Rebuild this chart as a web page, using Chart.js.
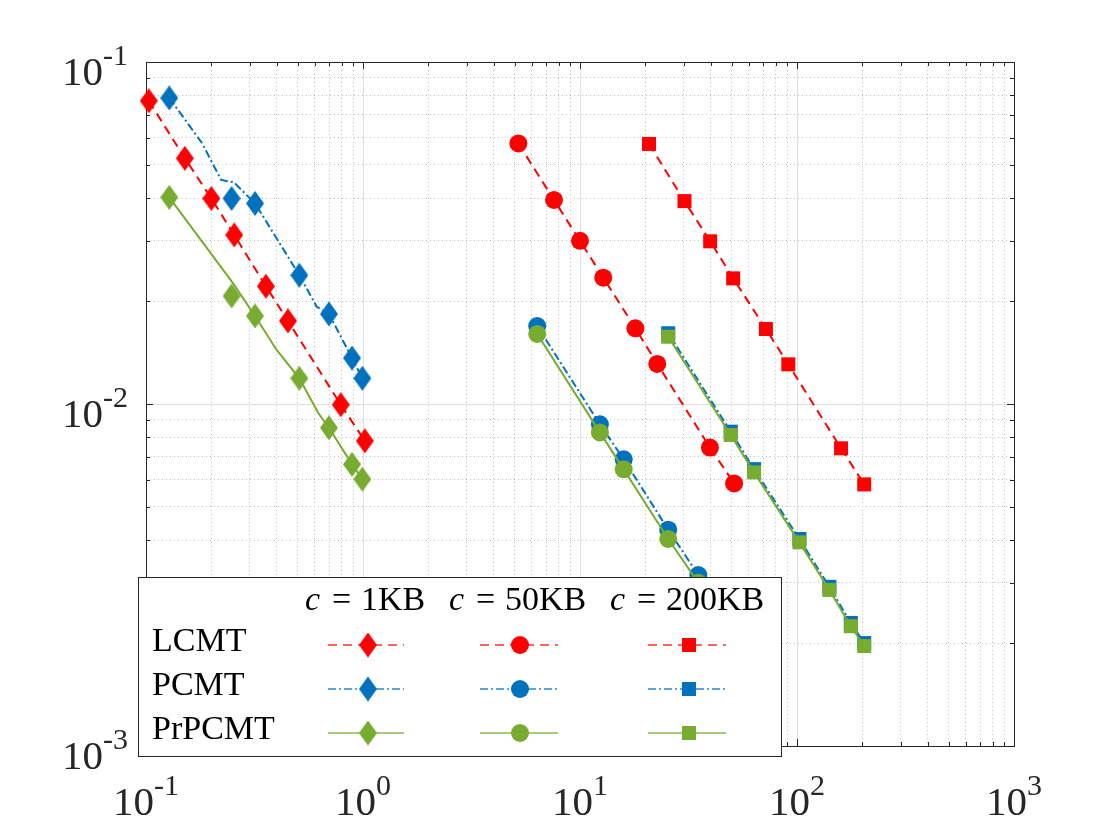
<!DOCTYPE html>
<html>
<head>
<meta charset="utf-8">
<script src="https://cdn.jsdelivr.net/npm/chart.js@4.4.1/dist/chart.umd.min.js"></script>
<style>
  body { margin: 0; background: #fff; }
  #wrap { width: 1120px; height: 840px; }
</style>
</head>
<body>
<div id="wrap"><canvas id="chart" width="1120" height="840"></canvas></div>
<script>
// ---- data ----
// c = 1KB
var lc1X = [0.103, 0.151, 0.2, 0.255, 0.357, 0.451, 0.79, 1.02];
var lc1Y = [0.077, 0.0523, 0.0399, 0.0312, 0.0221, 0.0175, 0.00995, 0.0078];
var p1MarkX = [0.128, 0.248, 0.318, 0.509, 0.697, 0.89, 0.993];
var pc1Y = [0.0785, 0.0399, 0.0386, 0.0238, 0.01833, 0.01363, 0.01189];
var pr1Y = [0.0402, 0.0207, 0.01809, 0.01189, 0.00852, 0.00666, 0.00603];
// the 1KB curves have a few extra vertices without markers
var pc1LineX = [0.128, 0.181, 0.222, 0.254, 0.318, 0.509, 0.612, 0.697, 0.89, 0.993];
var pc1LineY = [0.0785, 0.058, 0.0452, 0.0445, 0.0386, 0.0238, 0.01925, 0.01833, 0.01363, 0.01189];
var pr1LineX = [0.128, 0.253, 0.318, 0.4, 0.509, 0.622, 0.697, 0.89, 0.993];
var pr1LineY = [0.0402, 0.02244, 0.01809, 0.01439, 0.01189, 0.00941, 0.00852, 0.00666, 0.00603];

// c = 50KB
var lc50X = [5.2, 7.59, 10, 12.8, 18, 22.7, 39.7, 51.3];
var lc50Y = [0.0578, 0.0395, 0.030, 0.0234, 0.01665, 0.0131, 0.00746, 0.00586];
var p50X = [6.35, 12.35, 15.9, 25.5, 35.1];
var pc50Y = [0.0169, 0.00872, 0.00689, 0.00429, 0.00316];
var pr50Y = [0.01603, 0.00826, 0.00644, 0.00403, 0.0030];

// c = 200KB
var lc200X = [20.8, 30.3, 39.8, 50.8, 71.9, 91.2, 159.6, 204];
var lc200Y = [0.0576, 0.0392, 0.0299, 0.0233, 0.01657, 0.01306, 0.00742, 0.00582];
var p200X = [25.5, 49.5, 63.4, 102.6, 141, 177, 204];
var pc200Y = [0.0161, 0.0083, 0.00645, 0.00403, 0.00292, 0.00229, 0.0020];
var pr200Y = [0.01573, 0.00812, 0.00631, 0.00394, 0.00286, 0.00224, 0.00196];

var methods = ['LCMT', 'PCMT', 'PrPCMT'];
var sizes = ['1KB', '50KB', '200KB'];
var xLabelPows = [-1, 0, 1, 2, 3];
var yLabelPows = [-3, -2, -1];

var RED = '#ff0000', BLUE = '#0072bd', GREEN = '#77ac30';
var AXIS = '#262626';
var FONT = '"Liberation Serif", "DejaVu Serif", serif';

function decadeTicks(lo, hi) {
  var out = [];
  for (var k = lo; k < hi; k++) {
    for (var m = 1; m <= 9; m++) out.push(Number((m * Math.pow(10, k)).toPrecision(3)));
  }
  out.push(Math.pow(10, hi));
  return out;
}
var xTicks = decadeTicks(-1, 3);
var yTicks = decadeTicks(-3, -1);

function isMajor(v) {
  var l = Math.log10(v);
  return Math.abs(l - Math.round(l)) < 1e-6;
}

function pts(xs, ys) {
  return xs.map(function (x, i) { return { x: x, y: ys[i] }; });
}

// taller-than-wide diamond like matlab's
function diamond(color) {
  var c = document.createElement('canvas');
  c.width = 18; c.height = 25;
  var g = c.getContext('2d');
  g.fillStyle = color;
  g.beginPath();
  g.moveTo(9, 0); g.lineTo(18, 12.5); g.lineTo(9, 25); g.lineTo(0, 12.5);
  g.closePath(); g.fill();
  return c;
}
var dRed = diamond(RED), dBlue = diamond(BLUE), dGreen = diamond(GREEN);

var dashes = { LCMT: [9, 6], PCMT: [8, 3, 2, 3], PrPCMT: [] };
var colors = { LCMT: RED, PCMT: BLUE, PrPCMT: GREEN };
var orders = { LCMT: 2, PCMT: 1, PrPCMT: 0 };

function lineSet(xs, ys, method) {
  return {
    data: pts(xs, ys), showLine: true, pointRadius: 0,
    borderColor: colors[method], borderWidth: 2, borderDash: dashes[method],
    order: orders[method], clip: false
  };
}
function markSet(xs, ys, method, style, radius, withLine) {
  return {
    data: pts(xs, ys), showLine: withLine,
    borderColor: colors[method], borderWidth: 2, borderDash: dashes[method],
    pointStyle: style, pointRadius: radius, pointBorderWidth: 0,
    pointBackgroundColor: colors[method], pointBorderColor: colors[method],
    order: orders[method], clip: false
  };
}

var datasets = [
  markSet(lc1X, lc1Y, 'LCMT', dRed, 9, true),
  lineSet(pc1LineX, pc1LineY, 'PCMT'),
  markSet(p1MarkX, pc1Y, 'PCMT', dBlue, 9, false),
  lineSet(pr1LineX, pr1LineY, 'PrPCMT'),
  markSet(p1MarkX, pr1Y, 'PrPCMT', dGreen, 9, false),
  markSet(lc50X, lc50Y, 'LCMT', 'circle', 9, true),
  markSet(p50X, pc50Y, 'PCMT', 'circle', 9, true),
  markSet(p50X, pr50Y, 'PrPCMT', 'circle', 9, true),
  markSet(lc200X, lc200Y, 'LCMT', 'rect', 9.9, true),
  markSet(p200X, pc200Y, 'PCMT', 'rect', 9.9, true),
  markSet(p200X, pr200Y, 'PrPCMT', 'rect', 9.9, true)
];

function gridOpts() {
  return {
    drawTicks: false, tickLength: 0, lineWidth: 1,
    color: function (c) { return c.tick && isMajor(c.tick.value) ? '#dedede' : '#bdbdbd'; }
  };
}
function borderOpts() {
  return {
    display: false,
    dash: function (c) { return c.tick && isMajor(c.tick.value) ? [] : [1, 3]; }
  };
}

// box, inner ticks, tick labels, legend
var decor = {
  id: 'decor',
  beforeDatasetsDraw: function (chart) {
    var ctx = chart.ctx, a = chart.chartArea;
    var sx = chart.scales.x, sy = chart.scales.y;
    ctx.save();
    ctx.strokeStyle = AXIS;
    ctx.lineWidth = 1;
    ctx.beginPath();
    xTicks.forEach(function (v) {
      var px = Math.round(sx.getPixelForValue(v)) + 0.5;
      var len = isMajor(v) ? 7 : 4;
      ctx.moveTo(px, a.bottom); ctx.lineTo(px, a.bottom - len);
      ctx.moveTo(px, a.top); ctx.lineTo(px, a.top + len);
    });
    yTicks.forEach(function (v) {
      var py = Math.round(sy.getPixelForValue(v)) + 0.5;
      var len = isMajor(v) ? 7 : 4;
      ctx.moveTo(a.left, py); ctx.lineTo(a.left + len, py);
      ctx.moveTo(a.right, py); ctx.lineTo(a.right - len, py);
    });
    ctx.stroke();
    ctx.strokeRect(Math.round(a.left) + 0.5, Math.round(a.top) + 0.5,
      Math.round(a.right - a.left), Math.round(a.bottom - a.top));
    ctx.restore();
  },
  afterDraw: function (chart) {
    var ctx = chart.ctx;
    var sx = chart.scales.x, sy = chart.scales.y;
    ctx.save();
    ctx.fillStyle = AXIS;
    ctx.textBaseline = 'alphabetic';
    ctx.textAlign = 'left';

    function powLabel(p) {
      ctx.font = '41px ' + FONT;
      var wb = ctx.measureText('10').width;
      ctx.font = '30px ' + FONT;
      var we = ctx.measureText(String(p)).width;
      return { wb: wb, we: we, w: wb + we };
    }
    function drawPow(p, x0, base) {
      var m = powLabel(p);
      ctx.font = '41px ' + FONT;
      ctx.fillText('10', x0, base);
      ctx.font = '30px ' + FONT;
      ctx.fillText(String(p), x0 + m.wb, base - 20);
    }
    xLabelPows.forEach(function (p) {
      var px = sx.getPixelForValue(Math.pow(10, p));
      var m = powLabel(p);
      drawPow(p, px - m.w / 2, 815);
    });
    yLabelPows.forEach(function (p) {
      var py = sy.getPixelForValue(Math.pow(10, p));
      var m = powLabel(p);
      drawPow(p, 128 - m.w, py + 23);
    });

    // legend table
    var L = 138, T = 577, R = 781, B = 756;
    ctx.fillStyle = '#ffffff';
    ctx.fillRect(L, T, R - L, B - T);
    ctx.strokeStyle = AXIS;
    ctx.lineWidth = 1;
    ctx.strokeRect(L + 0.5, T + 0.5, R - L, B - T);

    ctx.fillStyle = '#000';
    var headX = [305, 449, 610];
    sizes.forEach(function (s, i) {
      ctx.font = 'italic 34px ' + FONT;
      ctx.fillText('c', headX[i], 610);
      ctx.font = '34px ' + FONT;
      ctx.fillText('=', headX[i] + 27, 610);
      ctx.fillText(s, headX[i] + 56, 610);
    });
    var rowY = [645, 689, 733];
    ctx.font = '34px ' + FONT;
    methods.forEach(function (m, r) {
      ctx.fillText(m, 152, rowY[r] + 6);
    });

    var lightCol = { LCMT: '#ff6464', PCMT: '#5fa5db', PrPCMT: '#a5ca7c' };
    var colX = [[328, 368, 404], [480, 520, 558], [648, 689, 726]];
    methods.forEach(function (m, r) {
      colX.forEach(function (cx, c) {
        var y = rowY[r];
        ctx.strokeStyle = lightCol[m];
        ctx.lineWidth = 2;
        ctx.setLineDash(dashes[m]);
        ctx.beginPath();
        ctx.moveTo(cx[0], y); ctx.lineTo(cx[2], y);
        ctx.stroke();
        ctx.setLineDash([]);
        ctx.fillStyle = colors[m];
        if (c === 0) {
          var img = m === 'LCMT' ? dRed : (m === 'PCMT' ? dBlue : dGreen);
          ctx.drawImage(img, cx[1] - 9, y - 12.5);
        } else if (c === 1) {
          ctx.beginPath(); ctx.arc(cx[1], y, 9, 0, Math.PI * 2); ctx.fill();
        } else {
          ctx.fillRect(cx[1] - 7, y - 7, 14, 14);
        }
      });
    });
    ctx.restore();
  }
};

new Chart(document.getElementById('chart').getContext('2d'), {
  type: 'scatter',
  data: { datasets: datasets },
  options: {
    responsive: false,
    animation: false,
    devicePixelRatio: 1,
    layout: { padding: { left: 146, right: 106, top: 62, bottom: 94 } },
    plugins: { legend: { display: false }, tooltip: { enabled: false } },
    scales: {
      x: {
        type: 'logarithmic', min: 0.1, max: 1000,
        afterBuildTicks: function (s) { s.ticks = xTicks.map(function (v) { return { value: v }; }); },
        ticks: { display: false },
        grid: gridOpts(), border: borderOpts()
      },
      y: {
        type: 'logarithmic', min: 0.001, max: 0.1,
        afterBuildTicks: function (s) { s.ticks = yTicks.map(function (v) { return { value: v }; }); },
        ticks: { display: false },
        grid: gridOpts(), border: borderOpts()
      }
    }
  },
  plugins: [decor]
});
</script>
</body>
</html>
